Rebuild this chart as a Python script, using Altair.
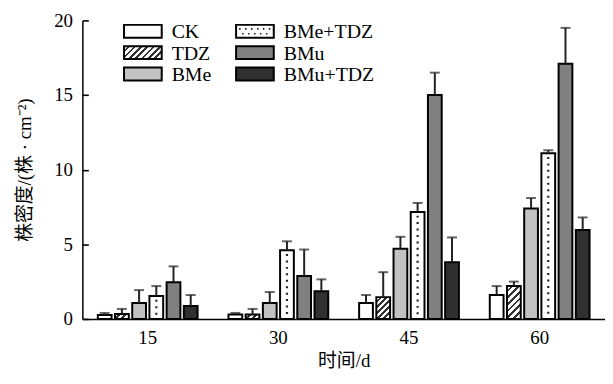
import math
import altair as alt
import pandas as pd

# ---------------- data ----------------
groups = ["15", "30", "45", "60"]
treatments = ["CK", "TDZ", "BMe", "BMe+TDZ", "BMu", "BMu+TDZ"]

val_ck = [0.27, 0.30, 1.06, 1.60]
val_tdz = [0.33, 0.30, 1.46, 2.20]
val_bme = [1.06, 1.06, 4.70, 7.40]
val_bme_tdz = [1.53, 4.60, 7.17, 11.10]
val_bmu = [2.46, 2.87, 15.00, 17.10]
val_bmu_tdz = [0.87, 1.85, 3.80, 5.95]

err_ck = [0.13, 0.10, 0.54, 0.60]
err_tdz = [0.34, 0.37, 1.67, 0.30]
err_bme = [0.87, 0.74, 0.80, 0.70]
err_bme_tdz = [0.67, 0.60, 0.60, 0.20]
err_bmu = [1.06, 1.78, 1.50, 2.40]
err_bmu_tdz = [0.73, 0.80, 1.66, 0.85]

y_ticks = [0, 5, 10, 15, 20]
x_title = "时间/d"
y_title = "株密度/(株 · cm⁻²)"

values = [val_ck, val_tdz, val_bme, val_bme_tdz, val_bmu, val_bmu_tdz]
errors = [err_ck, err_tdz, err_bme, err_bme_tdz, err_bmu, err_bmu_tdz]

rows = []
for t, vals, errs in zip(treatments, values, errors):
    for g, v, e in zip(groups, vals, errs):
        rows.append(dict(group=g, treatment=t, value=v, err=e, upper=v + e))
df = pd.DataFrame(rows)

# ---------------- styling ----------------
W, H = 527, 301
YMAX = 20
FONT = "Liberation Serif, Noto Sans CJK SC"
FS = 19
DARK = "#222222"
fills = {"CK": "#ffffff", "BMe": "#c2c2c2", "BMe+TDZ": "#ffffff",
         "BMu": "#808080", "BMu+TDZ": "#303030"}

x_scale = alt.Scale(domain=groups, paddingInner=0.21, paddingOuter=0.105)
xo_scale = alt.Scale(domain=treatments, paddingInner=0.2, paddingOuter=0.1)
y_scale = alt.Scale(domain=[0, YMAX], nice=False)

x_axis = alt.Axis(orient="bottom", title=x_title, labelAngle=0, ticks=False, grid=False,
                  domainColor="black", domainWidth=1.5,
                  labelFont=FONT, labelFontSize=FS, labelColor="black", labelPadding=10,
                  titleFont=FONT, titleFontSize=FS, titleColor="black",
                  titleFontWeight="normal", titlePadding=4)


def make_y_axis(inward):
    common = dict(orient="left", title=y_title, values=y_ticks, grid=False,
                  domainColor="black", domainWidth=1.5,
                  labelFont=FONT, labelFontSize=FS, labelColor="black",
                  titleFont=FONT, titleFontSize=FS, titleColor="black",
                  titleFontWeight="normal", titlePadding=19)
    if inward:
        # ticks pointing into the plot (negative size given as an expression)
        return alt.Axis(ticks=True, tickSize=alt.ExprRef(expr="-6"), tickColor="black",
                        tickWidth=1.6, labelPadding=16, **common)
    return alt.Axis(ticks=False, labelPadding=10, **common)


# bar width in pixels (for the hatch gradient geometry)
band_w = W / (len(groups) - 0.21 + 2 * 0.105) * (1 - 0.21)
bar_w = band_w / (len(treatments) - 0.2 + 0.2) * 0.8


def hatch(w, h, spacing=4.6):
    n = max(1, round((w + h) / (spacing * math.sqrt(2))))
    k = (w + h) / (w * w + h * h)
    stops = []
    for i in range(n):
        a, b, c = i / n, (i + 0.6) / n, (i + 1) / n
        stops += [{"offset": a, "color": "#ffffff"}, {"offset": b, "color": "#ffffff"},
                  {"offset": b, "color": "#333333"}, {"offset": c, "color": "#333333"}]
    return {"gradient": "linear", "x1": 0, "y1": 0, "x2": k * w, "y2": k * h,
            "stops": stops}


def build(inward):
    y_axis = make_y_axis(inward)
    X = alt.X("group:N", sort=groups, scale=x_scale, axis=x_axis)
    XO = alt.XOffset("treatment:N", sort=treatments, scale=xo_scale)

    def Y(field):
        return alt.Y(f"{field}:Q", scale=y_scale, axis=y_axis)

    base = alt.Chart(df)
    layers = []
    for t in treatments:
        if t == "TDZ":
            continue
        layers.append(base.transform_filter(alt.datum.treatment == t)
                      .mark_bar(fill=fills[t], stroke="black", strokeWidth=2)
                      .encode(x=X, xOffset=XO, y=Y("value"), y2=alt.datum(0)))
    for g, v in zip(groups, val_tdz):
        hpx = v / YMAX * H
        layers.append(base.transform_filter((alt.datum.treatment == "TDZ") & (alt.datum.group == g))
                      .mark_bar(fill=hatch(bar_w, hpx), stroke="black", strokeWidth=2)
                      .encode(x=X, xOffset=XO, y=Y("value"), y2=alt.datum(0)))
    layers.append(base.transform_filter(alt.datum.treatment == "BMe+TDZ")
                  .transform_calculate(top="datum.value - 0.25", bot="0.2")
                  .mark_rule(strokeDash=[2, 4.5], strokeWidth=2.2, color=DARK)
                  .encode(x=X, xOffset=XO, y=Y("top"), y2="bot:Q"))
    layers.append(base.mark_rule(strokeWidth=2, color=DARK)
                  .encode(x=X, xOffset=XO, y=Y("value"), y2="upper:Q"))
    layers.append(base.mark_tick(size=10, thickness=2, color=DARK)
                  .encode(x=X, xOffset=XO, y=Y("upper")))

    # legend
    leg_cols = [42, 155]
    leg_rows = [11, 32.5, 54]
    SW, SH = 38, 13
    for i, t in enumerate(treatments):
        x0 = leg_cols[i // 3]
        yc = leg_rows[i % 3]
        one = alt.Chart(pd.DataFrame({"t": [t]}))
        fill = hatch(SW, SH) if t == "TDZ" else fills[t]
        layers.append(one.mark_rect(fill=fill, stroke="black", strokeWidth=2)
                      .encode(x=alt.value(x0), x2=alt.value(x0 + SW),
                              y=alt.value(yc - SH / 2), y2=alt.value(yc + SH / 2)))
        if t == "BMe+TDZ":
            for dy, off in [(-2.5, 0), (2.5, 3)]:
                layers.append(one.mark_rule(strokeDash=[1.6, 4.4], strokeDashOffset=off,
                                            strokeWidth=1.6, color=DARK)
                              .encode(x=alt.value(x0 + 3), x2=alt.value(x0 + SW - 3),
                                      y=alt.value(yc + dy)))
        layers.append(one.mark_text(align="left", baseline="middle", font=FONT,
                                    fontSize=20, color="black")
                      .encode(x=alt.value(x0 + 48), y=alt.value(yc + 1), text="t:N"))

    return (alt.layer(*layers)
            .properties(width=W, height=H,
                        autosize=alt.AutoSizeParams(type="none"),
                        padding={"left": 75, "top": 11, "right": 0, "bottom": 51},
                        background="white")
            .configure_view(stroke=None))


try:
    chart = build(True)
    chart.save("out.html", embed_options={"renderer": "svg", "actions": False})
except Exception:
    chart = build(False)
    chart.save("out.html", embed_options={"renderer": "svg", "actions": False})
